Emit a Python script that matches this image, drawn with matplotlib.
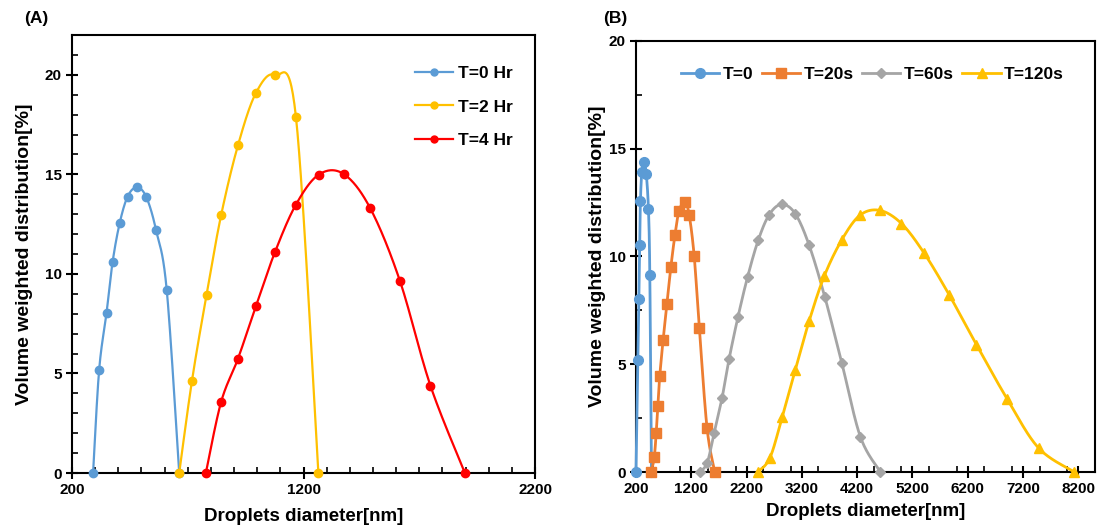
import numpy as np
import matplotlib
matplotlib.use("Agg")
import matplotlib.pyplot as plt
from matplotlib.ticker import MultipleLocator, FixedLocator

plt.rcParams['font.family'] = ['Liberation Sans', 'DejaVu Sans']
plt.rcParams['font.weight'] = 'bold'

# ---------------- Panel A data ----------------
a0_x = [291, 317, 349, 375, 406, 440, 479, 520, 563, 609, 663]
a0_y = [0, 5.16, 8.04, 10.58, 12.56, 13.88, 14.35, 13.88, 12.2, 9.2, 0]
a2_x = [663, 718, 781, 844, 917, 994, 1076, 1167, 1264]
a2_y = [0, 4.63, 8.95, 12.95, 16.47, 19.08, 19.98, 17.9, 0]
a4_x = [778, 844, 917, 994, 1076, 1167, 1266, 1373, 1488, 1616, 1748, 1897]
a4_y = [0, 3.57, 5.75, 8.37, 11.08, 13.48, 14.99, 15.02, 13.3, 9.66, 4.39, 0]
a_labels = ["T=0 Hr", "T=2 Hr", "T=4 Hr"]

# ---------------- Panel B data ----------------
b0_x = [200, 235, 252, 265, 280, 305, 345, 385, 425, 450, 480]
b0_y = [0, 5.2, 8.05, 10.55, 12.56, 13.9, 14.38, 13.85, 12.2, 9.15, 0]
b20_x = [475, 530, 565, 595, 630, 690, 760, 830, 905, 980, 1085, 1163, 1253, 1345, 1485, 1625]
b20_y = [0, 0.68, 1.8, 3.08, 4.45, 6.12, 7.8, 9.5, 11.0, 12.12, 12.53, 11.91, 10.0, 6.7, 2.04, 0]
b60_x = [1356, 1489, 1615, 1755, 1885, 2045, 2218, 2410, 2609, 2833, 3079, 3332, 3615, 3922, 4260, 4621]
b60_y = [0, 0.44, 1.83, 3.42, 5.26, 7.2, 9.05, 10.75, 11.94, 12.42, 11.99, 10.52, 8.12, 5.06, 1.62, 0]
b120_x = [2399, 2621, 2844, 3079, 3332, 3603, 3917, 4248, 4609, 5001, 5410, 5862, 6357, 6910, 7482, 8130]
b120_y = [0, 0.65, 2.55, 4.72, 7.01, 9.08, 10.75, 11.91, 12.14, 11.53, 10.16, 8.23, 5.91, 3.4, 1.11, 0]
b_labels = ["T=0", "T=20s", "T=60s", "T=120s"]

BLUE = "#5B9BD5"
ORANGE = "#ED7D31"
GRAY = "#A5A5A5"
YELLOW = "#FFC000"
RED = "#FF0000"


def smooth(x, y, xr, yr, n=30):
    """Catmull-Rom style smoothing (like spreadsheet smooth lines) in scaled space."""
    x = np.asarray(x, float)
    y = np.asarray(y, float)
    sx = (x - xr[0]) / (xr[1] - xr[0])
    sy = (y - yr[0]) / (yr[1] - yr[0])
    P = np.column_stack([sx, sy])
    pts = []
    m = len(P)
    for i in range(m - 1):
        p0 = P[i - 1] if i > 0 else P[i]
        p1 = P[i]
        p2 = P[i + 1]
        p3 = P[i + 2] if i + 2 < m else P[i + 1]
        c1 = p1 + (p2 - p0) / 6.0
        c2 = p2 - (p3 - p1) / 6.0
        t = np.linspace(0, 1, n)[:, None]
        seg = ((1 - t) ** 3) * p1 + 3 * ((1 - t) ** 2) * t * c1 + 3 * (1 - t) * t ** 2 * c2 + t ** 3 * p2
        pts.append(seg if i == 0 else seg[1:])
    pts = np.vstack(pts)
    return pts[:, 0] * (xr[1] - xr[0]) + xr[0], pts[:, 1] * (yr[1] - yr[0]) + yr[0]


fig = plt.figure(figsize=(11.03, 5.31), dpi=100)
axA = fig.add_axes([0.0653, 0.1092, 0.4198, 0.8249])
axB = fig.add_axes([0.5766, 0.1111, 0.4161, 0.8117])

# ---- Panel A ----
xrA = (200, 2200)
yrA = (0, 22)
for xs, ys, c, lab in [(a0_x, a0_y, BLUE, a_labels[0]),
                       (a2_x, a2_y, YELLOW, a_labels[1]),
                       (a4_x, a4_y, RED, a_labels[2])]:
    sx, sy = smooth(xs, ys, xrA, yrA)
    axA.plot(sx, sy, color=c, lw=1.6, zorder=3, clip_on=False)
    axA.plot(xs, ys, 'o', color=c, ms=6, zorder=4, clip_on=False)
    axA.plot([], [], '-o', color=c, lw=1.6, ms=5, label=lab)

axA.set_xlim(*xrA)
axA.set_ylim(*yrA)
axA.xaxis.set_major_locator(FixedLocator([200, 1200, 2200]))
axA.xaxis.set_minor_locator(MultipleLocator(100))
axA.yaxis.set_major_locator(FixedLocator([0, 5, 10, 15, 20]))
axA.yaxis.set_minor_locator(MultipleLocator(1))
axA.set_xlabel("Droplets diameter[nm]", fontsize=13.5, fontweight='bold', labelpad=8)
axA.set_ylabel("Volume weighted distribution[%]", fontsize=14, fontweight='bold', labelpad=8)
leg = axA.legend(loc='upper left', bbox_to_anchor=(0.725, 0.945), frameon=False,
                 fontsize=12.5, handlelength=2.2, labelspacing=1.05, handletextpad=0.3,
                 borderaxespad=0.0)
for t in leg.get_texts():
    t.set_fontweight('bold')
fig.text(0.022, 0.965, "(A)", fontsize=12.5, fontweight='bold', ha='left', va='center')

# ---- Panel B ----
xrB = (200, 8500)
yrB = (0, 20)
for xs, ys, c, mk, ms, lab in [(b0_x, b0_y, BLUE, 'o', 7, b_labels[0]),
                               (b20_x, b20_y, ORANGE, 's', 6.5, b_labels[1]),
                               (b60_x, b60_y, GRAY, 'D', 5, b_labels[2]),
                               (b120_x, b120_y, YELLOW, '^', 7, b_labels[3])]:
    sx, sy = smooth(xs, ys, xrB, yrB)
    axB.plot(sx, sy, color=c, lw=2.0, zorder=3, clip_on=False)
    axB.plot(xs, ys, mk, color=c, ms=ms, zorder=4, clip_on=False)
    axB.plot([], [], '-' + mk, color=c, lw=2.0, ms=ms, label=lab)

axB.set_xlim(*xrB)
axB.set_ylim(*yrB)
axB.xaxis.set_major_locator(FixedLocator(list(range(200, 8201, 1000))))
axB.xaxis.set_minor_locator(MultipleLocator(500))
axB.yaxis.set_major_locator(MultipleLocator(5))
axB.yaxis.set_minor_locator(MultipleLocator(2.5))
axB.set_xlabel("Droplets diameter[nm]", fontsize=13.5, fontweight='bold', labelpad=5)
axB.set_ylabel("Volume weighted distribution[%]", fontsize=14, fontweight='bold', labelpad=2)
legB = axB.legend(loc='upper center', bbox_to_anchor=(0.515, 0.955), ncol=4, frameon=False,
                  fontsize=12.5, handlelength=2.2, columnspacing=0.5, handletextpad=0.2,
                  borderaxespad=0.0)
for t in legB.get_texts():
    t.set_fontweight('bold')
fig.text(0.547, 0.965, "(B)", fontsize=12.5, fontweight='bold', ha='left', va='center')

for ax in (axA, axB):
    for s in ax.spines.values():
        s.set_linewidth(1.5)
        s.set_color('black')
    ax.tick_params(which='major', direction='inout', length=8, width=1.5, labelsize=11)
    ax.tick_params(which='minor', direction='in', length=4, width=1.2)
    ax.tick_params(axis='x', which='major', pad=3)
    for lbl in ax.get_xticklabels() + ax.get_yticklabels():
        lbl.set_fontweight('bold')

fig.savefig("out.png", dpi=100)
